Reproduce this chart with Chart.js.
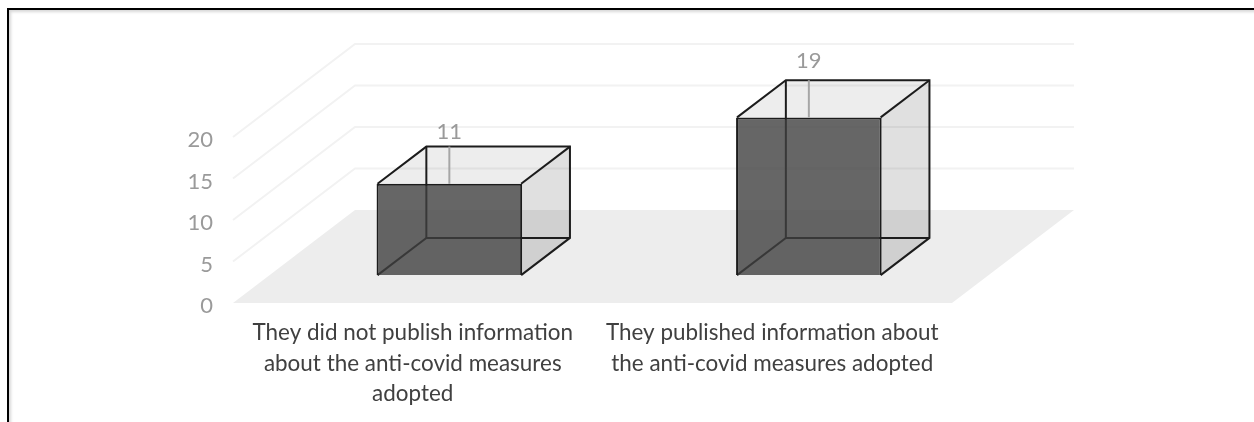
<!DOCTYPE html>
<html>
<head>
<meta charset="utf-8">
<title>Anti-covid measures</title>
<script src="https://cdn.jsdelivr.net/npm/chart.js@4/dist/chart.umd.min.js"></script>
<style>
    html, body { margin: 0; padding: 0; background: #fff; }
    #wrap { position: relative; width: 1254px; height: 422px; overflow: hidden; }
    #frame { position: absolute; left: 7px; top: 8px; width: 1300px; height: 460px; border: 2px solid #000; box-sizing: border-box; box-shadow: inset 2px 2px 3px #d8d8d8; }
    #bar_chart { position: absolute; left: 0; top: 0; }
</style>
</head>
<body>
<div id="wrap">
    <div id="frame"></div>
    <canvas id="bar_chart" width="1254" height="422"></canvas>
</div>
<script>
var categories = [
    ["They did not publish information", "about the anti-covid measures", "adopted"],
    ["They published information about", "the anti-covid measures adopted"]
];
var values = [11, 19];
var yTicks = [0, 5, 10, 15, 20];

// depth of the floor and how much of it sits in front of / behind the boxes
var depthX = 122, depthY = 93;
var gapShare = 0.30, boxShare = 0.40;

// how far each value sits above the back edge of its box
var labelLift = [15, 19];

function path(ctx, pts) {
    ctx.beginPath();
    ctx.moveTo(pts[0][0], pts[0][1]);
    for (var i = 1; i < pts.length; i++) ctx.lineTo(pts[i][0], pts[i][1]);
}

function fillPoly(ctx, pts, color) {
    path(ctx, pts);
    ctx.closePath();
    ctx.fillStyle = color;
    ctx.fill();
}

function strokeLine(ctx, pts, color, width) {
    path(ctx, pts);
    ctx.strokeStyle = color;
    ctx.lineWidth = width;
    ctx.stroke();
}

// front corners of a box, after it is moved back onto the floor
// left and right come in by 1px because the bar border is drawn inside the bar
function boxCorners(bar) {
    var dx = depthX * gapShare, dy = depthY * gapShare;
    var bx = depthX * boxShare, by = depthY * boxShare;
    var l = bar.x - bar.width / 2 + dx + 1, r = bar.x + bar.width / 2 + dx - 1;
    var t = bar.y - dy, b = bar.base - dy;
    return { l: l, r: r, t: t, b: b, bx: bx, by: by };
}

var floorAndWalls = {
    id: 'floorAndWalls',
    beforeDatasetsDraw: function (chart) {
        var ctx = chart.ctx, y = chart.scales.y, a = chart.chartArea;
        var zero = y.getPixelForValue(0);
        ctx.save();
        fillPoly(ctx, [[a.left, zero], [a.right, zero], [a.right + depthX, zero - depthY], [a.left + depthX, zero - depthY]], '#ededed');
        yTicks.forEach(function (t) {
            if (t === 0) return;
            var py = y.getPixelForValue(t);
            strokeLine(ctx, [[a.left, py], [a.left + depthX, py - depthY], [a.right + depthX, py - depthY]], '#f2f2f2', 2);
        });
        ctx.restore();
    }
};

var boxes = {
    id: 'boxes',
    beforeDatasetDraw: function (chart, args) {
        var ctx = chart.ctx;
        ctx.save();
        args.meta.data.forEach(function (bar) {
            var c = boxCorners(bar);
            fillPoly(ctx, [[c.r, c.t], [c.r + c.bx, c.t - c.by], [c.r + c.bx, c.b - c.by], [c.r, c.b]], 'rgba(0,0,0,0.12)');
            fillPoly(ctx, [[c.l, c.t], [c.r, c.t], [c.r + c.bx, c.t - c.by], [c.l + c.bx, c.t - c.by]], 'rgba(0,0,0,0.07)');
            // edges at the back show through the front face
            var edge = '#1c1c1c';
            strokeLine(ctx, [[c.l, c.b], [c.l + c.bx, c.b - c.by], [c.r + c.bx, c.b - c.by]], edge, 2);
            strokeLine(ctx, [[c.l + c.bx, c.b - c.by], [c.l + c.bx, c.t - c.by]], edge, 2);
        });
        ctx.restore();
        ctx.save();
        ctx.translate(depthX * gapShare, -depthY * gapShare);
    },
    afterDatasetDraw: function (chart, args) {
        var ctx = chart.ctx;
        ctx.restore();
        ctx.save();
        args.meta.data.forEach(function (bar, i) {
            var c = boxCorners(bar);
            var edge = '#1c1c1c';
            strokeLine(ctx, [[c.l, c.t], [c.l + c.bx, c.t - c.by], [c.r + c.bx, c.t - c.by], [c.r + c.bx, c.b - c.by], [c.r, c.b]], edge, 2);
            strokeLine(ctx, [[c.r, c.t], [c.r + c.bx, c.t - c.by]], edge, 2);

            // leader line and value
            var cx = (c.l + c.r) / 2;
            strokeLine(ctx, [[cx, c.t], [cx, c.t - c.by]], '#a6a6a6', 2);
            ctx.fillStyle = '#9a9a9a';
            ctx.font = '22px Lato';
            ctx.textAlign = 'center';
            ctx.textBaseline = 'middle';
            ctx.fillText(String(values[i]), cx, c.t - c.by - labelLift[i]);
        });
        ctx.restore();
    }
};

new Chart(document.getElementById("bar_chart").getContext("2d"), {
    type: 'bar',
    plugins: [floorAndWalls, boxes],
    data: {
        labels: categories,
        datasets: [{
            data: values,
            backgroundColor: 'rgba(64, 64, 64, 0.8)',
            borderColor: '#1c1c1c',
            borderWidth: 2,
            barPercentage: 0.405,
            categoryPercentage: 1,
            clip: false
        }]
    },
    options: {
        responsive: false,
        animation: false,
        layout: { padding: { top: 137, right: 302, left: 0, bottom: 0 } },
        plugins: { legend: false, tooltip: false, title: false },
        scales: {
            x: {
                afterFit: function (s) { s.height = 119; },
                grid: { display: false },
                border: { display: false },
                ticks: {
                    color: '#404040',
                    padding: 7,
                    maxRotation: 0,
                    autoSkip: false,
                    font: { family: 'Lato', size: 22.45, lineHeight: '30.5px' }
                }
            },
            y: {
                min: 0,
                max: 20,
                afterFit: function (s) { s.width = 233; },
                afterBuildTicks: function (s) {
                    s.ticks = yTicks.map(function (v) { return { value: v }; });
                },
                grid: { display: false, drawTicks: false },
                border: { display: false },
                ticks: {
                    color: '#9a9a9a',
                    padding: 20,
                    // blank first line nudges the digits down by half the line height
                    callback: function (v) { return ['', String(v)]; },
                    font: { family: 'Lato', size: 22, lineHeight: '6px' }
                }
            }
        }
    }
});
</script>
</body>
</html>
